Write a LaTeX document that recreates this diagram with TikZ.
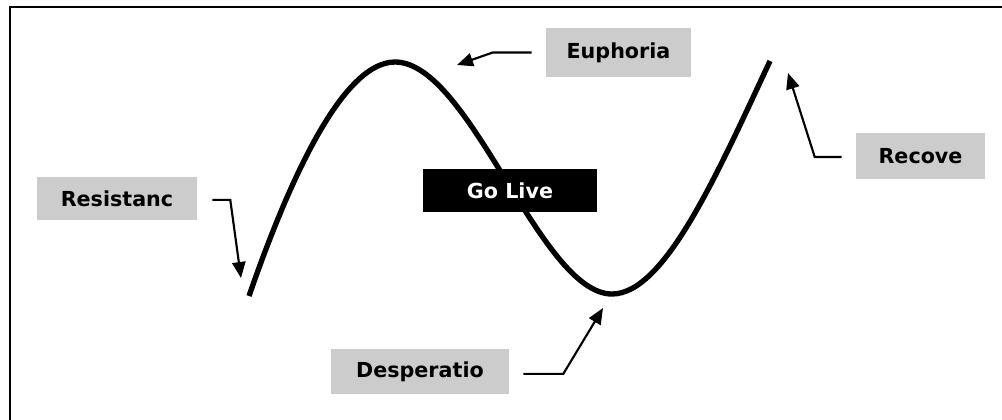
\documentclass[tikz,border=0pt]{standalone}
\usepackage{fontspec}
\setmainfont{DejaVu Sans}
\usetikzlibrary{arrows.meta}
\definecolor{labgray}{HTML}{CCCCCC}
\begin{document}
\begin{tikzpicture}[x=0.75pt,y=-0.75pt,
  lab/.style={fill=labgray, inner sep=0pt, text=black,
    font=\fontsize{15.5}{18}\selectfont\bfseries},
  golive/.style={fill=black, inner sep=0pt, text=white,
    font=\fontsize{15.5}{18}\selectfont\bfseries},
  curve/.style={line width=4pt, line cap=butt},
  arr/.style={line width=1.6pt, -{Triangle[length=12pt,width=10pt]}},
  frame/.style={line width=1.6pt}]
\useasboundingbox (0,0) rectangle (1002,419);
\begin{scope}
  \clip (0,0) rectangle (1002,419);
  \draw[frame] (10,7) rectangle (1030,450);
\end{scope}
% curve
\draw[curve] (249,296) .. controls (285,192) and (340,62) .. (395,62)
  .. controls (470,62) and (540,294) .. (612,294)
  .. controls (665,294) and (718,172) .. (770,61);
% labels
\node[lab, minimum width=120pt, minimum height=32.25pt] (res) at (117,198.5) {Resistanc};
\node[lab, minimum width=108.75pt, minimum height=36.75pt] (eup) at (618.5,52.5) {Euphoria};
\node[lab, minimum width=96.75pt, minimum height=34.5pt] (rec) at (920.5,156) {Recove};
\node[lab, minimum width=133.5pt, minimum height=33.75pt] (des) at (420,371.5) {Desperatio};
\node[golive, minimum width=130.5pt, minimum height=32.25pt] (go) at (510,190.5) {Go Live};
% arrow tips
\coordinate (restip) at (241,278);
\coordinate (euptip) at (457,65);
\coordinate (rectip) at (788,73);
\coordinate (destip) at (603,308);
% arrows
\draw[arr] ([xshift=11.25pt,yshift=-1pt]res.east) -- ++(13.5pt,0pt) -- (restip);
\draw[arr] ([xshift=-10.5pt]eup.west) -- ++(-29.25pt,0pt) -- (euptip);
\draw[arr] ([xshift=-10.5pt,yshift=-0.75pt]rec.west) -- ++(-20.25pt,0pt) -- (rectip);
\draw[arr] ([xshift=10.5pt,yshift=-1.8pt]des.east) -- ++(30pt,0pt) -- (destip);
\end{tikzpicture}
\end{document}
